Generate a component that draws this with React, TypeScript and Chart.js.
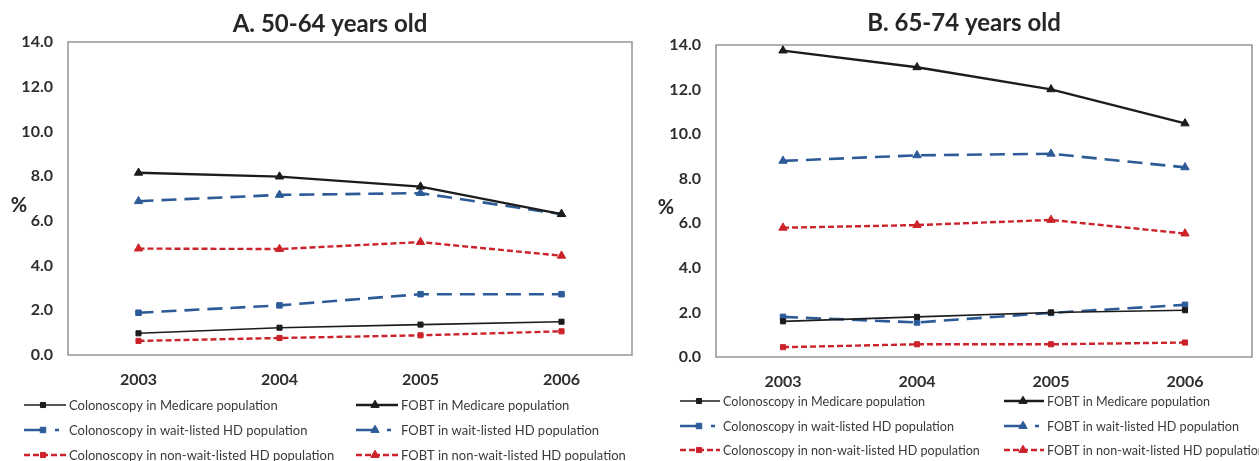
import React, { useEffect, useRef } from "react";
import { Chart, registerables } from "chart.js";
import { drawPoint } from "chart.js/helpers";

Chart.register(...registerables);

// ---------- data ----------
const years = ["2003", "2004", "2005", "2006"];
const yTickValues = [0, 2, 4, 6, 8, 10, 12, 14];

const seriesLabels = [
  "Colonoscopy in Medicare population",
  "Colonoscopy in wait-listed HD population",
  "Colonoscopy in non-wait-listed HD population",
  "FOBT in Medicare population",
  "FOBT in wait-listed HD population",
  "FOBT in non-wait-listed HD population",
];

// Panel A: 50-64 years old
const colMedicareA = [0.97, 1.22, 1.36, 1.49];
const colWaitA = [1.89, 2.22, 2.72, 2.72];
const colNonWaitA = [0.63, 0.76, 0.88, 1.06];
const fobtMedicareA = [8.15, 7.98, 7.53, 6.3];
const fobtWaitA = [6.88, 7.16, 7.24, 6.3];
const fobtNonWaitA = [4.76, 4.74, 5.05, 4.44];

// Panel B: 65-74 years old
const colMedicareB = [1.6, 1.8, 2.0, 2.1];
const colWaitB = [1.8, 1.55, 1.98, 2.34];
const colNonWaitB = [0.44, 0.57, 0.57, 0.65];
const fobtMedicareB = [13.75, 13.0, 12.01, 10.48];
const fobtWaitB = [8.8, 9.05, 9.12, 8.51];
const fobtNonWaitB = [5.8, 5.92, 6.15, 5.54];

const panelTitles = ["A. 50-64 years old", "B. 65-74 years old"];

// ---------- styles ----------
const BLACK = "#1c1c1c";
const BLUE = "#2d5b98";
const RED = "#cc2229";

const seriesStyles = [
  { color: BLACK, width: 1.6, dash: [] as number[], legendDash: [] as number[], point: "rect", radius: 3.6 },
  { color: BLUE, width: 2.6, dash: [15, 8], legendDash: [22, 9, 4, 100], point: "rect", radius: 3.9 },
  { color: RED, width: 2.4, dash: [6, 3], legendDash: [6, 3], point: "rect", radius: 3.6 },
  { color: BLACK, width: 2.4, dash: [], legendDash: [], point: "triangle", radius: 4.8 },
  { color: BLUE, width: 2.6, dash: [15, 8], legendDash: [22, 9, 4, 100], point: "triangle", radius: 4.8 },
  { color: RED, width: 2.4, dash: [6, 3], legendDash: [6, 3], point: "triangle", radius: 4.8 },
];

const FONT = "Lato, 'Open Sans', sans-serif";

const panelPlugin = {
  id: "panelDecor",
  beforeDatasetsDraw(chart: any) {
    const { ctx, chartArea } = chart;
    ctx.save();
    ctx.strokeStyle = "#9c9c9c";
    ctx.lineWidth = 1.6;
    ctx.strokeRect(chartArea.left, chartArea.top, chartArea.right - chartArea.left, chartArea.bottom - chartArea.top);
    ctx.restore();
  },
  afterDraw(chart: any, _args: any, opts: any) {
    const { ctx } = chart;
    ctx.save();
    // title
    ctx.fillStyle = "#262626";
    ctx.font = `bold 24px ${FONT}`;
    ctx.textAlign = "center";
    ctx.textBaseline = "alphabetic";
    ctx.fillText(opts.title, opts.titleX, opts.titleY);
    // % label
    ctx.font = `bold 20px ${FONT}`;
    ctx.textBaseline = "middle";
    ctx.fillText("%", opts.pctX, opts.pctY);
    // legend
    const order = [0, 3, 1, 4, 2, 5];
    order.forEach((dsIndex, i) => {
      const col = i % 2;
      const row = Math.floor(i / 2);
      const x0 = opts.legendX[col];
      const y = opts.legendY[row];
      const st = seriesStyles[dsIndex];
      const len = opts.legendLen;
      ctx.save();
      ctx.strokeStyle = st.color;
      ctx.lineWidth = st.width;
      ctx.setLineDash(st.legendDash);
      ctx.beginPath();
      ctx.moveTo(x0, y);
      ctx.lineTo(x0 + len, y);
      ctx.stroke();
      ctx.setLineDash([]);
      ctx.fillStyle = st.color;
      ctx.lineWidth = 1;
      drawPoint(ctx, { pointStyle: st.point, radius: st.radius, rotation: 0, borderWidth: 1 }, x0 + 19, y);
      ctx.restore();
      ctx.fillStyle = "#3a3a3a";
      ctx.font = `${opts.legendSize}px ${FONT}`;
      ctx.textAlign = "left";
      ctx.textBaseline = "middle";
      ctx.fillText(seriesLabels[dsIndex], x0 + len + 3, y + 0.5);
    });
    ctx.restore();
  },
};

function buildConfig(seriesData: number[][], layout: any, deco: any) {
  return {
    type: "line" as const,
    data: {
      labels: years,
      datasets: seriesData.map((vals, i) => {
        const st = seriesStyles[i];
        return {
          label: seriesLabels[i],
          data: vals,
          borderColor: st.color,
          backgroundColor: st.color,
          borderWidth: st.width,
          borderDash: st.dash,
          pointStyle: st.point,
          pointRadius: st.radius,
          pointBorderWidth: 1,
          pointBackgroundColor: st.color,
          pointBorderColor: st.color,
          tension: 0,
          fill: false,
          clip: false,
        };
      }),
    },
    options: {
      responsive: false,
      animation: false as const,
      devicePixelRatio: 1,
      layout: { padding: layout.padding },
      plugins: {
        legend: { display: false },
        tooltip: { enabled: false },
        title: { display: false },
        panelDecor: deco,
      },
      scales: {
        x: {
          type: "category" as const,
          offset: true,
          grid: { display: false },
          border: { display: false },
          ticks: {
            color: "#2e2e2e",
            font: { family: FONT, size: 16, weight: "bold" as const },
            padding: 7,
            maxRotation: 0,
          },
          afterFit: (scale: any) => {
            scale.height = layout.xHeight;
          },
        },
        y: {
          min: 0,
          max: 14,
          grid: { display: false },
          border: { display: false },
          afterBuildTicks: (scale: any) => {
            scale.ticks = yTickValues.map((v) => ({ value: v }));
          },
          ticks: {
            color: "#2e2e2e",
            font: { family: FONT, size: 16, weight: "bold" as const },
            padding: 7,
            callback: (v: any) => Number(v).toFixed(1),
          },
          afterFit: (scale: any) => {
            scale.width = layout.yWidth;
          },
        },
      },
    },
    plugins: [panelPlugin],
  };
}

function Panel(props: { left: number; width: number; config: any }) {
  const ref = useRef<HTMLCanvasElement | null>(null);
  useEffect(() => {
    if (!ref.current) return;
    const chart = new Chart(ref.current, props.config);
    return () => chart.destroy();
  }, []);
  return (
    <canvas
      ref={ref}
      width={props.width}
      height={461}
      style={{ position: "absolute", left: props.left, top: 0, width: props.width, height: 461 }}
    />
  );
}

export default function App() {
  const cfgA = buildConfig(
    [colMedicareA, colWaitA, colNonWaitA, fobtMedicareA, fobtWaitA, fobtNonWaitA],
    { padding: { left: 0, right: 8, top: 42, bottom: 0 }, yWidth: 68, xHeight: 106 },
    {
      title: panelTitles[0],
      titleX: 330,
      titleY: 32,
      pctX: 19,
      pctY: 206,
      legendX: [24, 356],
      legendY: [405, 430, 455],
      legendLen: 42,
      legendSize: 13,
    }
  );
  const cfgB = buildConfig(
    [colMedicareB, colWaitB, colNonWaitB, fobtMedicareB, fobtWaitB, fobtNonWaitB],
    { padding: { left: 0, right: 7, top: 45, bottom: 0 }, yWidth: 76, xHeight: 104 },
    {
      title: panelTitles[1],
      titleX: 324,
      titleY: 31,
      pctX: 26,
      pctY: 208,
      legendX: [40, 364],
      legendY: [401, 426, 450],
      legendLen: 40,
      legendSize: 12.6,
    }
  );
  return (
    <div style={{ position: "fixed", left: 0, top: 0, width: 1259, height: 461, background: "#ffffff", overflow: "hidden" }}>
      <Panel left={0} width={640} config={cfgA} />
      <Panel left={640} width={619} config={cfgB} />
    </div>
  );
}
